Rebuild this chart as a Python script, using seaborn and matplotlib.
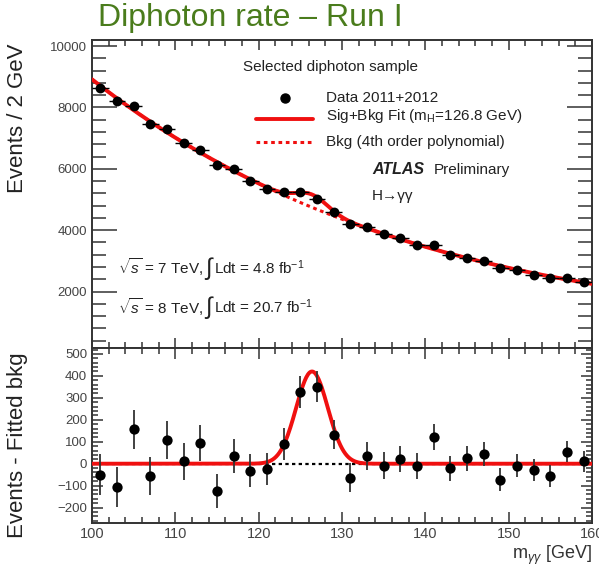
import numpy as np
import pandas as pd
import matplotlib
matplotlib.use("Agg")
import matplotlib.pyplot as plt
import seaborn as sns
from matplotlib.ticker import MultipleLocator

# ---------------- data ----------------
mass = [101, 103, 105, 107, 109, 111, 113, 115, 117, 119,
        121, 123, 125, 127, 129, 131, 133, 135, 137, 139,
        141, 143, 145, 147, 149, 151, 153, 155, 157, 159]
events = [8650, 8210, 8055, 7475, 7310, 6855, 6625, 6110, 5980, 5615,
          5345, 5235, 5235, 5015, 4600, 4195, 4100, 3880, 3730, 3530,
          3510, 3205, 3105, 3005, 2765, 2700, 2555, 2450, 2450, 2305]
stat_err = [93, 91, 90, 86, 86, 83, 81, 78, 77, 75,
            73, 72, 72, 71, 68, 65, 64, 62, 61, 59,
            59, 57, 56, 55, 53, 52, 51, 49, 49, 48]
residual = [-50, -104, 156, -55, 107, 11, 95, -124, 34, -31,
            -24, 90, 327, 350, 133, -63, 34, -9, 21, -12,
            121, -20, 24, 46, -73, -9, -28, -55, 55, 11]
x_ticks = [100, 110, 120, 130, 140, 150, 160]
top_yticks = [2000, 4000, 6000, 8000, 10000]
bot_yticks = [-200, -100, 0, 100, 200, 300, 400, 500]

# signal peak parameters
peak_mass = 126.4
peak_width = 1.9
peak_height = 420

df = pd.DataFrame({"mass": mass, "events": events, "err": stat_err, "residual": residual})
df["bkg"] = df["events"] - df["residual"]

# 4th-order polynomial background fitted to the data (as in the original)
u = (df["mass"] - 130.0) / 30.0
coef = np.polyfit(u, df["bkg"], 4)
xf = np.linspace(100, 160, 601)
bkg_curve = np.polyval(coef, (xf - 130.0) / 30.0)
sig_curve = peak_height * np.exp(-0.5 * ((xf - peak_mass) / peak_width) ** 2)
curves = pd.DataFrame({"mass": xf, "bkg": bkg_curve, "sb": bkg_curve + sig_curve,
                       "sig": sig_curve, "zero": np.zeros_like(xf)})

# ---------------- styling ----------------
sns.set_theme(style="white")
plt.rcParams["font.family"] = ["Liberation Sans", "DejaVu Sans"]
plt.rcParams["mathtext.fontset"] = "custom"
plt.rcParams["mathtext.rm"] = "Liberation Sans"
plt.rcParams["mathtext.it"] = "Liberation Sans:italic"
plt.rcParams["mathtext.bf"] = "Liberation Sans:bold"

W, H = 599, 568
fig = plt.figure(figsize=(W / 100, H / 100), dpi=100)
left, right = 92 / W, 592 / W
y_split = 1 - 348 / H
ax1 = fig.add_axes([left, y_split, right - left, (1 - 40 / H) - y_split])
ax2 = fig.add_axes([left, 1 - 523 / H, right - left, y_split - (1 - 523 / H)])

frame_col = "#333333"
tick_col = "#444444"
red = "#f01010"
txt = "#222222"

for ax in (ax1, ax2):
    for s in ax.spines.values():
        s.set_color(frame_col)
        s.set_linewidth(1.4)
    ax.set_xlim(100, 160)
    ax.xaxis.set_major_locator(MultipleLocator(10))
    ax.xaxis.set_minor_locator(MultipleLocator(2))
    ax.tick_params(which="both", direction="in", top=True, right=True,
                   bottom=True, left=True, color=frame_col, width=1.1,
                   labelcolor=tick_col, labelsize=9.5)

# ---------------- top panel ----------------
ax1.set_ylim(160, 10200)
ax1.set_yticks(top_yticks)
ax1.yaxis.set_minor_locator(MultipleLocator(400))
ax1.tick_params(axis="y", which="major", length=18)
ax1.tick_params(axis="y", which="minor", length=10)
ax1.tick_params(axis="x", which="major", length=7)
ax1.tick_params(axis="x", which="minor", length=4)
ax1.tick_params(axis="x", labelbottom=False)

sns.lineplot(data=curves, x="mass", y="bkg", ax=ax1, color=red, lw=2.2,
             linestyle=(0, (1.2, 1.2)), zorder=2)
sns.lineplot(data=curves, x="mass", y="sb", ax=ax1, color=red, lw=2.8, zorder=3)
ax1.errorbar(df["mass"], df["events"], xerr=1.0, yerr=df["err"], fmt="none",
             ecolor="black", elinewidth=1.0, zorder=4)
sns.scatterplot(data=df, x="mass", y="events", ax=ax1, color="black", s=50,
                edgecolor="black", linewidth=0, zorder=5)
ax1.set_xlabel("")
ax1.set_ylabel("Events / 2 GeV", fontsize=16, color=txt)
ax1.yaxis.set_label_coords(-0.128, 0.747)

fs = 11
ax1.text(118.1, 9312, "Selected diphoton sample", fontsize=fs, color=txt, va="center")
ax1.plot([123.2], [8296], "o", color="black", ms=6.5)
ax1.text(128.1, 8296, "Data 2011+2012", fontsize=fs, color=txt, va="center")
ax1.plot([119.7, 126.5], [7617, 7617], color=red, lw=2.8)
ax1.text(128.1, 7738, r"Sig+Bkg Fit (m$_{\mathrm{H}}$=126.8 GeV)", fontsize=fs,
         color=txt, va="center")
ax1.plot([119.7, 126.5], [6886, 6886], color=red, lw=2.2, linestyle=(0, (1.2, 1.2)))
ax1.text(128.1, 6876, "Bkg (4th order polynomial)", fontsize=fs, color=txt, va="center")
ax1.text(133.6, 5968, "ATLAS", fontsize=11.5, color=txt, va="center",
         fontweight="bold", fontstyle="italic")
ax1.text(141.0, 5968, "Preliminary", fontsize=fs, color=txt, va="center")
ax1.text(133.6, 5115, "H\u2192\u03b3\u03b3", fontsize=fs, color=txt, va="center")

# luminosity lines: sqrt(s) part, tall integral sign, then Ldt part
lum_lines = [(2787, "7", "4.8"), (1508, "8", "20.7")]
for yv, energy, lumi in lum_lines:
    ax1.text(103.1, yv, r"$\sqrt{s}$ = " + energy + " TeV,", fontsize=fs,
             color=txt, va="center")
    ax1.text(113.45, yv - 40, r"$\int$", fontsize=17, color=txt, va="center")
    ax1.text(114.6, yv, "Ldt = " + lumi + r" fb$^{-1}$", fontsize=fs,
             color=txt, va="center")

# ---------------- bottom panel ----------------
ax2.set_ylim(-270, 527)
ax2.set_yticks(bot_yticks)
ax2.yaxis.set_minor_locator(MultipleLocator(20))
ax2.tick_params(axis="y", which="major", length=8)
ax2.tick_params(axis="y", which="minor", length=4)
ax2.tick_params(axis="x", which="major", length=8)
ax2.tick_params(axis="x", which="minor", length=4)
ax2.set_xticks(x_ticks)
ax2.tick_params(axis="x", labelsize=10.5, pad=3)

sns.lineplot(data=curves, x="mass", y="zero", ax=ax2, color="black", lw=1.6,
             linestyle=(0, (1.5, 1.5)), zorder=2)
sns.lineplot(data=curves, x="mass", y="sig", ax=ax2, color=red, lw=2.8, zorder=3)
ax2.errorbar(df["mass"], df["residual"], yerr=df["err"], fmt="none",
             ecolor="#333333", elinewidth=1.3, zorder=4)
sns.scatterplot(data=df, x="mass", y="residual", ax=ax2, color="black", s=55,
                linewidth=0, zorder=5)
ax2.set_xlabel(r"m$_{\gamma\gamma}$ [GeV]", fontsize=13, color="#333333")
ax2.xaxis.set_label_coords(1.0, -0.12)
ax2.xaxis.label.set_horizontalalignment("right")
ax2.xaxis.label.set_verticalalignment("top")
ax2.set_ylabel("Events - Fitted bkg", fontsize=16, color=txt)
ax2.yaxis.set_label_coords(-0.128, 0.446)

fig.text(98 / W, 1 - 26 / H, "Diphoton rate \u2013 Run I", fontsize=23,
         color="#4a7c1c", va="baseline", ha="left")

fig.savefig("out.png", dpi=100, facecolor="white")
